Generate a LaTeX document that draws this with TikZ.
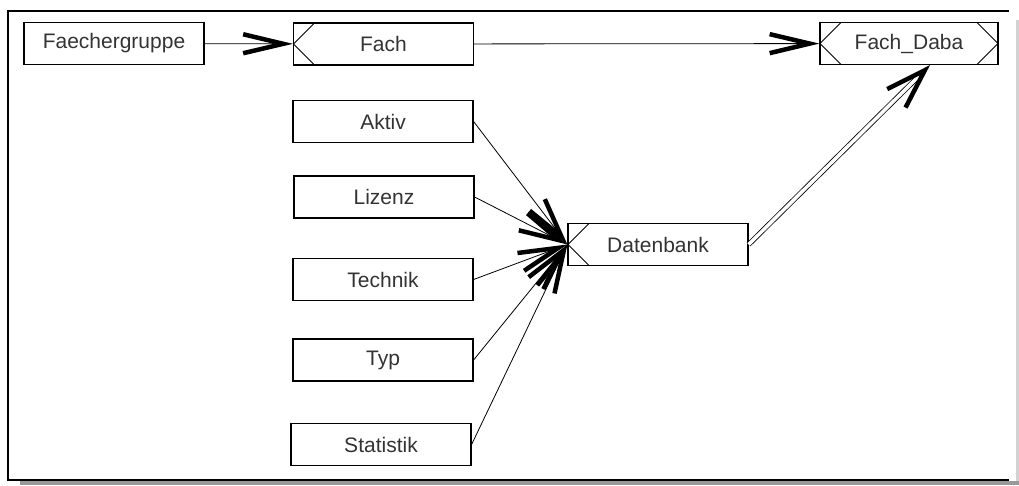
\documentclass[tikz,border=0pt]{standalone}
\usepackage{fontspec}
\setmainfont{Liberation Sans}
\usetikzlibrary{arrows.meta}

\begin{document}
\begin{tikzpicture}[x=1pt, y=-1pt,
  >={Straight Barb[length=40pt,width=19pt,line width=4.5pt]},
  box/.style={draw, line width=1.2pt, minimum width=180pt, minimum height=42pt,
    inner sep=0pt, font=\fontsize{21}{25}\selectfont, text=black!80},
  lnotch/.style={path picture={
    \draw[line width=0.8pt] ([xshift=21pt]path picture bounding box.north west)
      -- (path picture bounding box.west) -- ([xshift=21pt]path picture bounding box.south west);}},
  bnotch/.style={path picture={
    \draw[line width=0.8pt] ([xshift=21pt]path picture bounding box.north west)
      -- (path picture bounding box.west) -- ([xshift=21pt]path picture bounding box.south west);
    \draw[line width=0.8pt] ([xshift=-21pt]path picture bounding box.north east)
      -- (path picture bounding box.east) -- ([xshift=-21pt]path picture bounding box.south east);}},
  link/.style={line width=0.8pt}]

\useasboundingbox (0,0) rectangle (1019,485);

% frame
\draw[gray!35, line width=3pt] (1017,20) -- (1017,485);
\draw[gray!80, line width=3.5pt] (20,483) -- (1019,483);
\draw[line width=1.8pt] (1009,11) -- (8,11) -- (8,480) -- (1009,480);

\node[box] (fgruppe) at (114,43.5) {Faechergruppe};
\node[box, lnotch] (fach) at (383.5,44) {Fach};
\node[box, bnotch, minimum width=178pt] (fdaba) at (909,43.5) {Fach\_Daba};

\node[box] (aktiv) at (383,121.5) {Aktiv};
\node[box] (lizenz) at (384,197) {Lizenz};
\node[box] (technik) at (383,279.5) {Technik};
\node[box] (typ) at (383,360) {Typ};
\node[box] (statistik) at (381,444.5) {Statistik};

\node[box, lnotch] (dbank) at (658,244.5) {Datenbank};

\draw[link, ->] (fgruppe) -- (fach);
\draw[link, ->] (fach) -- (fdaba);

\foreach \n in {aktiv,lizenz,technik,typ,statistik}
  \draw[link, ->] (\n.east) -- (dbank.west);

\draw[link, double, double distance=3.5pt,
  -{Straight Barb[length=40pt,width=26pt,line width=4.5pt]}]
  (dbank.east) -- ([xshift=21pt]fdaba.south);

\end{tikzpicture}
\end{document}
